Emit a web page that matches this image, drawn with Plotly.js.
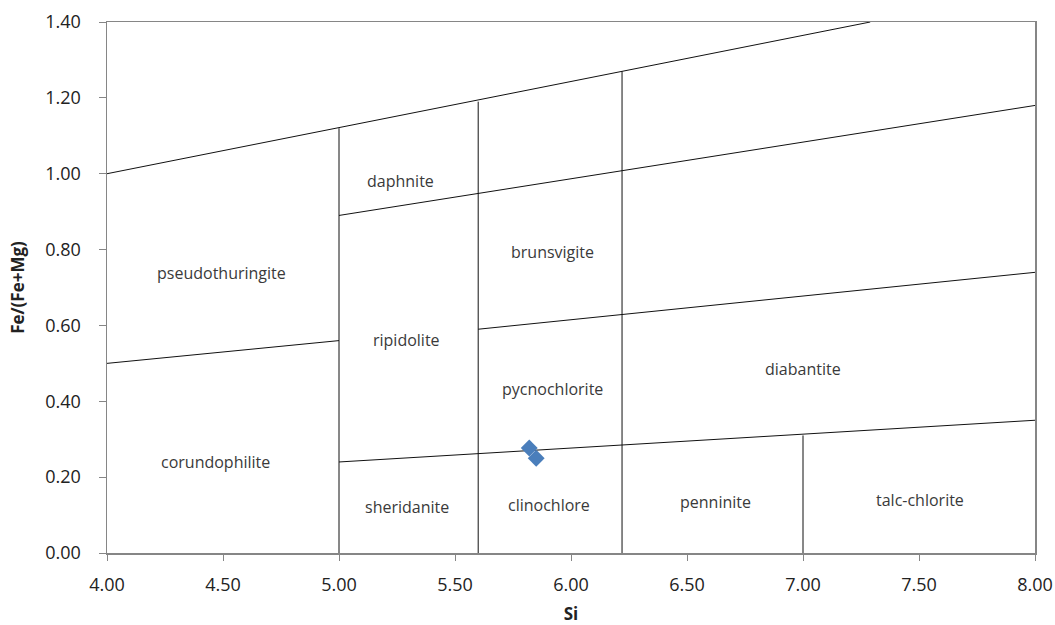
<!DOCTYPE html>
<html>
<head>
<meta charset="utf-8">
<script src="https://cdn.plot.ly/plotly-3.0.1.min.js"></script>
<style>html,body{margin:0;padding:0;background:#fff;}#chart{width:1055px;height:625px;}</style>
</head>
<body>
<div id="chart"></div>
<script>
// Field boundaries (Si, Fe/(Fe+Mg))
const topLineX = [4.0, 7.29];
const topLineY = [1.00, 1.40];
const upperLineX = [5.0, 8.0];
const upperLineY = [0.89, 1.18];
const midLeftX = [4.0, 5.0];
const midLeftY = [0.50, 0.56];
const midRightX = [5.6, 8.0];
const midRightY = [0.59, 0.74];
const lowerLineX = [5.0, 8.0];
const lowerLineY = [0.24, 0.35];
const vert1X = [5.0, 5.0];
const vert1Y = [0.0, 1.12];
const vert2X = [5.6, 5.6];
const vert2Y = [0.0, 1.19];
const vert3X = [6.22, 6.22];
const vert3Y = [0.0, 1.27];
const vert4X = [7.0, 7.0];
const vert4Y = [0.0, 0.31];

// Sample points
const sampleSi = [5.82, 5.85];
const sampleFe = [0.277, 0.25];

// Field names
const fieldNames = ["daphnite", "pseudothuringite", "brunsvigite", "ripidolite", "pycnochlorite", "diabantite", "corundophilite", "sheridanite", "clinochlore", "penninite", "talc-chlorite"];
const fieldX = [5.267, 4.494, 5.922, 5.293, 5.922, 6.998, 4.468, 5.293, 5.905, 6.623, 7.504];
const fieldY = [0.980, 0.738, 0.793, 0.561, 0.433, 0.485, 0.241, 0.122, 0.126, 0.135, 0.140];

// Axis ticks
const xTicks = [4.0, 4.5, 5.0, 5.5, 6.0, 6.5, 7.0, 7.5, 8.0];
const yTicks = [0.0, 0.2, 0.4, 0.6, 0.8, 1.0, 1.2, 1.4];

const boundaries = [
  [topLineX, topLineY], [upperLineX, upperLineY], [midLeftX, midLeftY],
  [midRightX, midRightY], [lowerLineX, lowerLineY],
  [vert1X, vert1Y], [vert2X, vert2Y], [vert3X, vert3Y], [vert4X, vert4Y]
];

const traces = boundaries.map(b => ({
  x: b[0], y: b[1], mode: 'lines', type: 'scatter',
  line: {color: '#111111', width: 1}, hoverinfo: 'skip', showlegend: false
}));
traces.push({
  x: sampleSi, y: sampleFe, mode: 'markers', type: 'scatter', showlegend: false,
  marker: {symbol: 'diamond', size: 13, color: '#4a7ebb', line: {width: 0}}
});

const annotations = fieldNames.map((t, i) => ({
  x: fieldX[i], y: fieldY[i], xref: 'x', yref: 'y', text: t, showarrow: false,
  font: {family: 'Open Sans, sans-serif', size: 16, color: '#3a3a3a'}
}));

const layout = {
  width: 1055, height: 625,
  margin: {l: 107, r: 20, t: 21.5, b: 72},
  paper_bgcolor: '#ffffff', plot_bgcolor: '#ffffff',
  font: {family: 'Open Sans, sans-serif', color: '#222222'},
  xaxis: {
    range: [4, 8], tickvals: xTicks, ticktext: xTicks.map(v => v.toFixed(2)),
    showgrid: false, zeroline: false, showline: true, mirror: true,
    linecolor: '#868686', linewidth: 1.5, ticks: 'outside', ticklen: 6, tickcolor: '#868686',
    ticklabelstandoff: 9,
    tickfont: {size: 18, color: '#222222'},
    title: {text: '<b>Si</b>', font: {size: 17, color: '#222222'}, standoff: 30}
  },
  yaxis: {
    range: [0, 1.4], tickvals: yTicks, ticktext: yTicks.map(v => v.toFixed(2)),
    showgrid: false, zeroline: false, showline: true, mirror: true,
    linecolor: '#868686', linewidth: 1.5, ticks: 'outside', ticklen: 7, tickcolor: '#868686',
    ticklabelstandoff: 14,
    tickfont: {size: 18, color: '#222222'},
    title: {text: '<b>Fe/(Fe+Mg)</b>', font: {size: 17, color: '#222222'}, standoff: 16}
  },
  annotations: annotations
};

Plotly.newPlot('chart', traces, layout, {displayModeBar: false, staticPlot: true});
</script>
</body>
</html>
